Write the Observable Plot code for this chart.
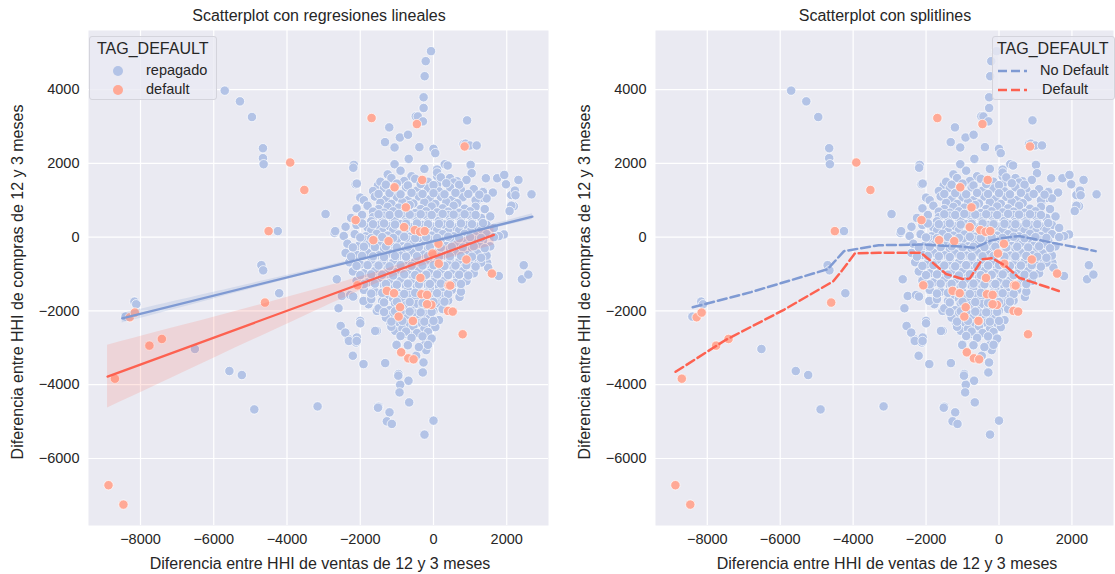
<!DOCTYPE html>
<html><head><meta charset="utf-8">
<script src="https://cdn.jsdelivr.net/npm/d3@7"></script>
<script src="https://cdn.jsdelivr.net/npm/@observablehq/plot@0.6"></script>
<style>
body{margin:0;background:#fff;font-family:"Liberation Sans",Arial,sans-serif;color:#262626}
#wrap{position:relative;width:1115px;height:574px;overflow:hidden;background:#fff}
.panel{position:absolute;top:0}
.title{position:absolute;top:7px;font-size:16px;white-space:nowrap;transform:translateX(-50%)}
.xlab{position:absolute;top:555px;font-size:16px;white-space:nowrap;transform:translateX(-50%)}
.ylab{position:absolute;font-size:16px;white-space:nowrap;transform:translate(-50%,-50%) rotate(-90deg)}
.legend{position:absolute;top:36px;height:64px;background:rgba(234,234,242,0.8);border:1px solid #d4d4dc;border-radius:3px;box-sizing:border-box}
.legend .lt{position:absolute;left:7px;top:3px;font-size:16px}
.legend .le{position:absolute;white-space:nowrap;font-size:14.5px}
.legend svg{position:absolute;left:0;top:0}
</style></head>
<body><div id="wrap">
<div id="left" class="panel" style="left:0"></div>
<div id="right" class="panel" style="left:560px"></div>
<div class="title" style="left:319px">Scatterplot con regresiones lineales</div>
<div class="title" style="left:885px">Scatterplot con splitlines</div>
<div class="xlab" style="left:320px">Diferencia entre HHI de ventas de 12 y 3 meses</div>
<div class="xlab" style="left:887px">Diferencia entre HHI de ventas de 12 y 3 meses</div>
<div class="ylab" style="left:18px;top:282px">Diferencia entre HHI de compras de 12 y 3 meses</div>
<div class="ylab" style="left:585px;top:282px">Diferencia entre HHI de compras de 12 y 3 meses</div>
<div class="legend" style="left:89px;width:128px">
  <svg width="128" height="64"><circle cx="28" cy="34" r="5" fill="#b3c3e6"/><circle cx="28" cy="53" r="5" fill="#ffa996"/></svg>
  <div class="lt">TAG_DEFAULT</div>
  <div class="le" style="left:56px;top:25px">repagado</div>
  <div class="le" style="left:56px;top:44px">default</div>
</div>
<div class="legend" style="left:992px;width:123px">
  <svg width="123" height="64"><line x1="5" x2="34" y1="34" y2="34" stroke="#7f9ad3" stroke-width="2.5" stroke-dasharray="9,4"/><line x1="5" x2="34" y1="53" y2="53" stroke="#fd6150" stroke-width="2.5" stroke-dasharray="9,4"/></svg>
  <div class="lt" style="left:4px">TAG_DEFAULT</div>
  <div class="le" style="left:47px;top:25px">No Default</div>
  <div class="le" style="left:49px;top:44px">Default</div>
</div>
</div>
<script>
const xTicks = [-8000, -6000, -4000, -2000, 0, 2000];
const yTicks = [-6000, -4000, -2000, 0, 2000, 4000];
const xDomain = [-9420, 3140];
const yDomain = [-7816, 5600];

// TAG_DEFAULT = repagado : outliers
const repagadoOuter = [
  [-5700,3970],[-5285,3680],[-4957,3255],[-4657,2410],[-4657,2140],[-4638,1976],[-4251,163],[-4700,-760],[-4650,-900],
  [-2947,625],[-2705,118],[-2684,162],[-2174,1958],[-2190,1880],[-2126,1432],[-2094,1451],[-2000,1070],[-1517,1405],
  [-1208,2974],[-1324,2575],[-1063,2430],[-918,2700],[-696,2774],[-1063,1976],[-676,2122],[-483,3273],[-428,3270],
  [-386,2439],[-290,3137],[-270,3500],[-270,3790],[-241,4361],[-212,4769],[-68,5040],[0,2393],[48,2276],[309,1976],
  [386,1940],[918,3164],[821,2520],[874,2532],[986,2484],[1179,2484],[1014,1958],[1043,1732],[1430,1596],[1739,1596],
  [1932,1686],[1980,1432],[2125,1142],[2222,1260],[2239,1135],[2193,838],[2125,852],[2077,707],[2319,1550],[2676,1160],
  [1620,1207],[1192,992],[1356,1243],[1329,1063],[646,1513],[100,1830],[100,1649],[100,1424],
  [2464,-761],[2415,-1142],[2589,-1015],[1784,-1054],[1465,-694],[1493,-829],[1920,73],[1784,27],[710,-1622],[1147,-603],
  [-2320,-2766],[-2094,-2721],[-2112,-2856],[-2203,-3216],[-1911,-3441],[-1319,-3414],[-1002,-2900],[-473,-3216],
  [-956,-3711],[-683,-3892],[-910,-4000],[-928,-4208],[-961,-3756],[-1502,-4595],[-1201,-4749],[-1274,-4992],[-1138,-5063],
  [-664,-4479],[-273,-3397],[-292,-3668],[0,-4974],[-246,-5352],[-1547,-2540],[-1046,-2540],[-729,-2630],[-601,-2676],
  [-364,-2630],[-227,-2901],[-200,-3063],[-91,-2811],
  [-8408,-2154],[-8165,-1747],[-8117,-1820],[-4214,-1520],[-6515,-3032],[-5573,-3629],[-5233,-3738],[-4893,-4670],
  [-3165,-4588],[-1515,-4624],
  [-2640,-1143],[-2503,-1595],[-2275,-1568],[-2593,-1928],[-1775,-1820],[-1911,-1730],[-1547,-2000],[-2001,-2270],
  [-1183,-2316],[-2194,-1611],[-2000,-2335],[-1592,-2543],[-1009,-2923],[-2534,-2407],[-2408,-2588],[-2310,-2814],[-2097,-2814]
];

// TAG_DEFAULT = repagado : dense core
const repagadoCore = [
  [-1250,1700],[-900,1800],[-600,1650],[-250,1850],[100,1750],[450,1600],
  [-1450,1500],[-1150,1600],[-800,1520],[-500,1580],[-150,1500],[200,1620],[550,1480],[900,1550],
  [-1650,1250],[-1350,1330],[-1050,1280],[-750,1350],[-450,1260],[-150,1320],[150,1240],[450,1350],[750,1280],[1100,1300],[1350,1220],
  [-1900,1000],[-1600,1100],[-1300,1020],[-1000,1080],[-700,1000],[-400,1100],[-100,1030],[200,1090],[500,1010],[800,1080],[1150,1000],[1450,1050],
  [-1450,930],[-1150,900],[-850,950],[-550,910],[-250,940],[50,900],[350,950],[650,920],
  [-2100,780],[-1800,850],[-1500,760],[-1250,820],[-950,800],[-650,870],[-350,760],[-50,830],[250,780],[550,850],[850,770],[1150,820],[1400,760],
  [-1650,690],[-1350,660],[-1100,700],[-800,680],[-500,650],[-200,700],[100,670],[400,690],[700,660],[1000,700],
  [-2250,520],[-1950,600],[-1650,540],[-1350,580],[-1100,500],[-800,600],[-500,540],[-200,580],[100,510],[400,600],[700,530],[1000,580],[1300,520],[1550,560],
  [-1700,430],[-1400,400],[-1050,440],[-750,410],[-450,430],[-150,400],[150,440],[450,410],[750,430],[1050,400],
  [-2400,280],[-2100,330],[-1800,260],[-1500,320],[-1200,290],[-900,350],[-600,270],[-300,330],[0,280],[300,340],[600,260],[900,320],[1200,280],[1450,330],[1650,250],
  [-1700,180],[-1400,150],[-1100,190],[-800,160],[-500,180],[-200,150],[100,190],[400,160],[700,180],[1000,150],[1300,190],
  [-2450,30],[-2150,80],[-1850,20],[-1550,90],[-1250,40],[-950,70],[-650,10],[-350,100],[-50,40],[250,80],[550,20],[850,90],[1150,30],[1450,80],[1650,0],
  [-1900,-60],[-1600,-100],[-1300,-70],[-1000,-90],[-700,-60],[-400,-100],[-100,-70],[200,-90],[500,-60],[800,-100],[1100,-70],[1350,-90],
  [-2350,-180],[-2050,-240],[-1750,-170],[-1450,-230],[-1150,-190],[-850,-250],[-550,-160],[-250,-220],[50,-180],[350,-240],[650,-170],[950,-230],[1250,-190],[1550,-250],
  [-1900,-310],[-1600,-350],[-1350,-320],[-1050,-340],[-750,-310],[-450,-350],[-150,-320],[150,-340],[450,-310],[750,-350],[1050,-320],
  [-2400,-430],[-2100,-480],[-1800,-420],[-1500,-490],[-1200,-440],[-900,-500],[-600,-410],[-300,-470],[0,-430],[300,-500],[600,-420],[900,-480],[1200,-440],[1450,-500],
  [-1650,-560],[-1350,-600],[-1050,-570],[-750,-590],[-450,-560],[-150,-600],[150,-570],[450,-590],[800,-560],[1100,-600],
  [-2300,-680],[-2000,-740],[-1700,-670],[-1400,-720],[-1100,-690],[-800,-750],[-500,-660],[-200,-720],[100,-690],[400,-740],[700,-670],[1000,-730],[1300,-690],
  [-1550,-810],[-1250,-850],[-950,-820],[-650,-840],[-350,-810],[-50,-850],[250,-820],[550,-840],[850,-810],
  [-2200,-930],[-1900,-980],[-1600,-920],[-1300,-990],[-1000,-940],[-700,-1000],[-400,-910],[-100,-970],[200,-930],[500,-990],[800,-920],[1100,-980],
  [-1450,-1060],[-1150,-1100],[-850,-1070],[-550,-1090],[-250,-1060],[50,-1100],[350,-1070],[650,-1090],
  [-2100,-1180],[-1800,-1230],[-1500,-1170],[-1200,-1240],[-900,-1190],[-600,-1250],[-300,-1160],[0,-1220],[300,-1180],[600,-1240],[900,-1190],
  [-1350,-1310],[-1050,-1350],[-750,-1320],[-450,-1340],[-150,-1310],[150,-1350],[400,-1320],
  [-1900,-1430],[-1600,-1480],[-1300,-1420],[-1000,-1490],[-700,-1440],[-400,-1500],[-100,-1410],[200,-1470],[500,-1430],[750,-1480],
  [-1250,-1560],[-950,-1600],[-650,-1570],[-350,-1590],[-50,-1560],[250,-1600],
  [-1700,-1680],[-1400,-1730],[-1100,-1670],[-800,-1740],[-500,-1690],[-200,-1750],[100,-1680],[400,-1720],
  [-1050,-1800],[-750,-1840],[-450,-1810],[-150,-1830],[150,-1800],
  [-1500,-1930],[-1200,-1980],[-900,-1920],[-600,-1990],[-300,-1940],[0,-2000],[250,-1950],
  [-1100,-2060],[-800,-2100],[-500,-2070],[-200,-2090],
  [-1300,-2180],[-1000,-2230],[-700,-2170],[-400,-2240],[-100,-2190],[150,-2250],
  [-950,-2310],[-650,-2350],[-350,-2320],[-50,-2340],
  [-1150,-2430],[-850,-2480],[-550,-2420],[-250,-2490],[50,-2440],
  [-750,-2560],[-450,-2600],[-150,-2570],
  [-900,-2680],[-600,-2730],[-300,-2690],[-50,-2750],
  [-700,-2930],[-400,-2980],[-150,-2920]
];

// TAG_DEFAULT = repagado : points filling the gaps of the core
const repagadoFill = [
  [-1300,1420],[-1000,1450],[-700,1400],[-350,1440],[0,1410],[350,1460],[700,1420],
  [-1500,1170],[-1200,1190],[-900,1160],[-600,1200],[-300,1170],[0,1190],[300,1160],[600,1200],[950,1170],[1250,1150],
  [-1500,620],[-1200,600],[-950,630],[-650,610],[-350,620],[-50,600],[250,630],[550,610],[850,620],[1150,600],
  [-1950,370],[-1650,350],[-1350,370],[-1050,340],[-750,360],[-450,370],[-150,350],[150,360],[450,350],[750,370],[1050,350],[1350,380],
  [-2000,-10],[-1700,-30],[-1400,0],[-1100,-20],[-800,10],[-500,-30],[-200,0],[100,-20],[400,10],[700,-30],[1000,0],[1300,-20],
  [-2200,-280],[-1900,-260],[-1600,-270],[-1300,-250],[-1000,-280],[-700,-260],[-400,-270],[-100,-260],[200,-280],[500,-260],[800,-280],[1100,-250],[1400,-300],
  [-2250,-530],[-1950,-510],[-1650,-520],[-1350,-540],[-1050,-510],[-750,-530],[-450,-520],[-150,-510],[150,-530],[450,-520],[750,-510],[1050,-530],[1300,-560],
  [-2100,-780],[-1800,-760],[-1500,-770],[-1200,-790],[-900,-760],[-600,-780],[-300,-770],[0,-760],[300,-780],[600,-770],[900,-760],[1150,-800],
  [-2000,-1030],[-1700,-1010],[-1400,-1020],[-1100,-1040],[-800,-1010],[-500,-1030],[-200,-1020],[100,-1010],[400,-1030],[700,-1020],[950,-1040],
  [-1900,-1280],[-1600,-1260],[-1300,-1270],[-1000,-1290],[-700,-1260],[-400,-1280],[-100,-1270],[200,-1260],[500,-1290],[750,-1270],
  [-1700,-1530],[-1400,-1510],[-1100,-1520],[-800,-1540],[-500,-1510],[-200,-1530],[100,-1520],[400,-1540],
  [-1350,-1770],[-1000,-1750],[-650,-1760],[-300,-1780],[0,-1760],[300,-1750],
  [-1350,-2030],[-1050,-2010],[-650,-2020],[-350,-2040],[-50,-2030],
  [-1150,-2290],[-850,-2270],[-550,-2280],[-250,-2290],[0,-2270]
];

// TAG_DEFAULT = default
const defaultPts = [
  [-8874,-6724],[-8466,-7249],[-8699,-3837],[-7757,-2941],[-7417,-2760],[-8291,-2172],[-8155,-2045],[-4602,-1774],
  [-4502,163],[-3913,2022],[-3527,1278],[-1691,3227],[-454,3064],[850,2457],[-309,1550],[-1063,1351],[-754,807],
  [-2126,462],[-802,272],[-512,190],[-367,145],[-241,163],[-1643,-82],[-1227,-109],[-29,-444],[899,-607],[1594,-988],
  [-357,-1106],[-2077,-1306],[415,-1306],[-1272,-1457],[-1078,-1520],[-913,-1900],[-951,-2154],[-883,-3122],
  [-689,-3285],[-544,-3312],[-563,-2271],[-330,-1548],[-175,-1566],[-58,-1837],[-175,-1819],[398,-2000],[524,-2018],
  [796,-2633],[456,-1312],[136,-181],[145,-721]
];

// Linear regressions (left panel)
const fitRepagado = [[-8500,-2200],[2700,553]];
const bandRepagado = [[-8500,-2070,-2330],[-6000,-1495,-1675],[-3000,-800,-890],[-500,-200,-265],[0,-80,-140],[2700,630,480]];
const fitDefault = [[-8900,-3780],[1650,60]];
const bandDefault = [[-8900,-2930,-4630],[-7500,-2560,-3980],[-6000,-2170,-3280],[-4500,-1770,-2590],[-3000,-1360,-1900],[-1500,-930,-1240],[-700,-665,-925],[0,-390,-690],[1650,335,-215]];

// Split lines (right panel)
const splitNoDefault = [[-8400,-1900],[-6800,-1490],[-4700,-870],[-4250,-380],[-3300,-220],[-2100,-200],[-1000,-260],[-650,-290],[-270,-110],[0,-40],[550,30],[1450,-150],[2650,-380]];
const splitDefault = [[-8870,-3650],[-7500,-2790],[-5900,-1970],[-4550,-1200],[-4300,-900],[-3950,-440],[-3300,-424],[-2140,-424],[-1450,-1000],[-1000,-1135],[-800,-1120],[-460,-600],[-190,-570],[180,-780],[550,-1100],[1640,-1460]];

const C_BLUE = "#b3c3e6", C_RED = "#ffa996";
const fmt = d3.format("d");
const X = d => d[0], Y = d => d[1];
const R = 4.7;

function scatter() {
  const o = {x: X, y: Y, r: R, fill: C_BLUE, stroke: "#fff", strokeWidth: 0.7};
  return [
    Plot.dot(repagadoOuter, o),
    Plot.dot(repagadoCore, o),
    Plot.dot(repagadoFill, o),
    Plot.dot(defaultPts, {...o, fill: C_RED})
  ];
}

function panel(ml, mr, marks) {
  return Plot.plot({
    width: 555, height: 574,
    marginLeft: ml, marginRight: mr, marginTop: 30, marginBottom: 49,
    x: {domain: xDomain},
    y: {domain: yDomain},
    style: {fontFamily: "'Liberation Sans', Arial, sans-serif", fontSize: "14.5px", color: "#262626", background: "transparent"},
    marks: [
      Plot.frame({fill: "#eaeaf2", stroke: "none"}),
      Plot.gridX(xTicks, {stroke: "#fff", strokeOpacity: 1, strokeWidth: 1.2}),
      Plot.gridY(yTicks, {stroke: "#fff", strokeOpacity: 1, strokeWidth: 1.2}),
      Plot.axisX(xTicks, {tickSize: 0, tickPadding: 8, tickFormat: fmt, label: null, fontSize: 14.5}),
      Plot.axisY(yTicks, {tickSize: 0, tickPadding: 9, tickFormat: fmt, label: null, fontSize: 14.5}),
      ...marks
    ]
  });
}

document.getElementById("left").append(panel(88, 7, [
  ...scatter(),
  Plot.areaY(bandRepagado, {x: X, y1: d => d[1], y2: d => d[2], fill: "#7f9ad3", fillOpacity: 0.2, curve: "natural"}),
  Plot.areaY(bandDefault, {x: X, y1: d => d[1], y2: d => d[2], fill: "#fd6150", fillOpacity: 0.16, curve: "natural"}),
  Plot.line(fitRepagado, {x: X, y: Y, stroke: "#7f9ad3", strokeWidth: 2.3}),
  Plot.line(fitDefault, {x: X, y: Y, stroke: "#fd6150", strokeWidth: 2.3})
]));

document.getElementById("right").append(panel(95, 2, [
  ...scatter(),
  Plot.line(splitNoDefault, {x: X, y: Y, stroke: "#7f9ad3", strokeWidth: 2.5, strokeDasharray: "9,4"}),
  Plot.line(splitDefault, {x: X, y: Y, stroke: "#fd6150", strokeWidth: 2.5, strokeDasharray: "9,4"})
]));
</script>
</body></html>
